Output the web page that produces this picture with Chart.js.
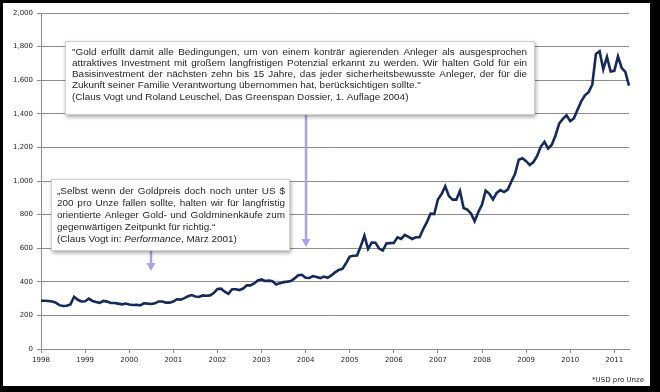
<!DOCTYPE html>
<html>
<head>
<meta charset="utf-8">
<script src="https://cdn.jsdelivr.net/npm/chart.js@4.4.1/dist/chart.umd.min.js"></script>
<style>
  html, body { margin: 0; padding: 0; background: #000; }
  #wrap { position: absolute; left: 0; top: 0; width: 660px; height: 392px; }
</style>
</head>
<body>
<div id="wrap"><canvas id="goldChart" width="660" height="392"></canvas></div>
<script>
// Goldpreis, Monatsdurchschnitt (USD pro Unze), wie im Bild beschriftet: Jan 1998 .. Mai 2011
var startYear = 1998;
var yearTicks = ['1998', '1999', '2000', '2001', '2002', '2003', '2004', '2005', '2006', '2007', '2008', '2009', '2010', '2011'];
var goldPrice = [
    287, 287, 286, 283, 276, 261, 256, 257, 265, 311, 293, 283,
    284, 300, 286, 280, 275, 286, 282, 274, 274, 270, 266, 271,
    265, 262, 263, 260, 272, 270, 268, 272, 283, 283, 276, 276,
    282, 296, 294, 303, 314, 321, 313, 310, 319, 317, 319, 333,
    357, 359, 341, 328, 356, 356, 351, 360, 379, 379, 390, 408,
    414, 405, 407, 403, 384, 392, 398, 401, 405, 420, 439, 442,
    424, 423, 434, 429, 422, 431, 424, 438, 456, 470, 477, 510,
    550, 555, 557, 611, 675, 596, 634, 633, 598, 586, 628, 630,
    631, 665, 655, 679, 667, 655, 665, 665, 713, 755, 806, 803,
    890, 922, 968, 910, 889, 889, 940, 839, 830, 807, 761, 816,
    859, 943, 924, 890, 929, 946, 934, 949, 997, 1043, 1127, 1135,
    1118, 1095, 1113, 1149, 1205, 1233, 1193, 1216, 1271, 1342, 1370, 1391,
    1356, 1373, 1424, 1474, 1510, 1529, 1573, 1756, 1772, 1665, 1739, 1652,
    1656, 1742, 1674, 1650, 1568
];
var yTicks = [0, 200, 400, 600, 800, 1000, 1200, 1400, 1600, 1800, 2000];

var quoteOne = [
    '"Gold erfüllt damit alle Bedingungen, um von einem konträr agierenden Anleger als  ausgesprochen',
    'attraktives Investment mit großem langfristigen Potenzial erkannt zu werden. Wir halten Gold für ein',
    'Basisinvestment der nächsten zehn bis 15 Jahre, das jeder sicherheitsbewusste Anleger, der für die',
    'Zukunft seiner Familie Verantwortung übernommen hat, berücksichtigen sollte."',
    '(Claus Vogt und Roland Leuschel, Das Greenspan Dossier, 1. Auflage 2004)'
];
var quoteTwo = [
    '„Selbst wenn der Goldpreis doch noch unter US $',
    '200 pro Unze fallen sollte, halten wir für langfristig',
    'orientierte Anleger Gold- und Goldminenkäufe zum',
    'gegenwärtigen Zeitpunkt für richtig.“'
];
var quoteTwoSource = ['(Claus Vogt in: ', 'Performance', ', März 2001)'];
var arrowOneIndex = 72;   // zeigt auf 2004
var arrowTwoIndex = 30;   // zeigt auf Mitte 2000

// Monatslabels fuer die Kategorienachse
var labels = [];
for (var i = 0; i < goldPrice.length; i++) {
    labels.push((startYear + Math.floor(i / 12)) + '-' + ((i % 12) + 1));
}

var textColor = '#262626';
var gridColor = '#8c8c8c';
var arrowColor = '#a5a5e6';
var noteFont = 'Liberation Sans, Arial, sans-serif';

function drawJustified(ctx, text, x, y, width) {
    var words = text.split(/\s+/);
    var total = 0;
    words.forEach(function(w) { total += ctx.measureText(w).width; });
    var gap = (width - total) / (words.length - 1);
    var cx = x;
    words.forEach(function(w) {
        ctx.fillText(w, cx, y);
        cx += ctx.measureText(w).width + gap;
    });
}

function drawBox(ctx, x, y, w, h) {
    ctx.save();
    ctx.shadowColor = 'rgba(0,0,0,0.35)';
    ctx.shadowBlur = 4;
    ctx.shadowOffsetX = 1;
    ctx.shadowOffsetY = 2;
    ctx.fillStyle = '#ffffff';
    ctx.fillRect(x, y, w, h);
    ctx.restore();
    ctx.strokeStyle = '#d0d0d0';
    ctx.lineWidth = 1;
    ctx.strokeRect(x + 0.5, y + 0.5, w - 1, h - 1);
}

function drawArrow(ctx, x, y1, y2) {
    ctx.save();
    ctx.strokeStyle = arrowColor;
    ctx.fillStyle = arrowColor;
    ctx.lineWidth = 2.5;
    ctx.beginPath();
    ctx.moveTo(x, y1);
    ctx.lineTo(x, y2 - 6);
    ctx.stroke();
    ctx.beginPath();
    ctx.moveTo(x - 4.5, y2 - 8);
    ctx.lineTo(x + 4.5, y2 - 8);
    ctx.lineTo(x, y2);
    ctx.closePath();
    ctx.fill();
    ctx.restore();
}

var framePlugin = {
    id: 'frame',
    beforeDraw: function(chart) {
        var ctx = chart.ctx;
        ctx.save();
        ctx.fillStyle = '#000';
        ctx.fillRect(0, 0, chart.width, chart.height);
        ctx.fillStyle = '#fff';
        ctx.fillRect(3, 3, 647, 383);
        ctx.restore();
    },
    afterDraw: function(chart) {
        var ctx = chart.ctx;
        var xs = chart.scales.x;
        ctx.save();

        // Schriftgroesse so waehlen, dass die Quellenzeile passt
        ctx.font = '10px ' + noteFont;
        var size = 10 * 337 / ctx.measureText(quoteOne[4]).width;
        var font = size.toFixed(2) + 'px ' + noteFont;
        var italic = 'italic ' + font;

        drawArrow(ctx, Math.round(xs.getPixelForValue(arrowOneIndex)), 115, 247);
        drawArrow(ctx, Math.round(xs.getPixelForValue(arrowTwoIndex)), 251, 271);

        drawBox(ctx, 65, 41, 470, 74);
        drawBox(ctx, 51, 179, 239, 72);

        ctx.fillStyle = textColor;
        ctx.textBaseline = 'middle';
        ctx.textAlign = 'left';
        ctx.font = font;
        quoteOne.forEach(function(line, n) {
            var y = 51.8 + n * 11.3;
            if (n < 3) drawJustified(ctx, line, 72, y, 455);
            else ctx.fillText(line, 72, y);
        });
        quoteTwo.forEach(function(line, n) {
            var y = 191 + n * 12;
            if (n < 3) drawJustified(ctx, line, 57, y, 228);
            else ctx.fillText(line, 57, y);
        });
        var sx = 57;
        quoteTwoSource.forEach(function(part, n) {
            ctx.font = n === 1 ? italic : font;
            ctx.fillText(part, sx, 239);
            sx += ctx.measureText(part).width;
        });

        ctx.font = '7px DejaVu Sans, sans-serif';
        ctx.textAlign = 'right';
        ctx.fillStyle = textColor;
        ctx.fillText('*USD pro Unze', 644, 380);
        ctx.restore();
    }
};

var ctx = document.getElementById('goldChart').getContext('2d');
var goldChart = new Chart(ctx, {
    type: 'line',
    data: {
        labels: labels,
        datasets: [{
            data: goldPrice,
            borderColor: '#152a5c',
            borderWidth: 2.6,
            pointRadius: 0,
            tension: 0,
            fill: false
        }]
    },
    options: {
        responsive: false,
        animation: false,
        layout: { padding: { left: 3, top: 13, right: 31, bottom: 7 } },
        plugins: {
            legend: { display: false },
            tooltip: { enabled: false }
        },
        scales: {
            x: {
                type: 'category',
                offset: false,
                afterFit: function(scale) { scale.height = 36; },
                grid: {
                    drawOnChartArea: false,
                    drawTicks: true,
                    tickLength: 4,
                    color: function(c) { return c.index % 12 === 0 ? gridColor : 'rgba(0,0,0,0)'; }
                },
                border: { display: true, color: gridColor },
                ticks: {
                    autoSkip: false,
                    maxRotation: 0,
                    padding: 3,
                    color: textColor,
                    font: { family: 'DejaVu Sans', size: 7 },
                    callback: function(v, idx) {
                        return idx % 12 === 0 ? yearTicks[idx / 12] : '';
                    }
                }
            },
            y: {
                min: yTicks[0],
                max: yTicks[yTicks.length - 1],
                afterFit: function(scale) { scale.width = 38; },
                afterBuildTicks: function(scale) {
                    scale.ticks = yTicks.map(function(v) { return { value: v }; });
                },
                grid: { color: gridColor, tickLength: 4 },
                border: { display: true, color: gridColor },
                ticks: {
                    padding: 4,
                    color: textColor,
                    font: { family: 'DejaVu Sans', size: 7 },
                    callback: function(v) { return v.toLocaleString('en-US'); }
                }
            }
        }
    },
    plugins: [framePlugin]
});
</script>
</body>
</html>
